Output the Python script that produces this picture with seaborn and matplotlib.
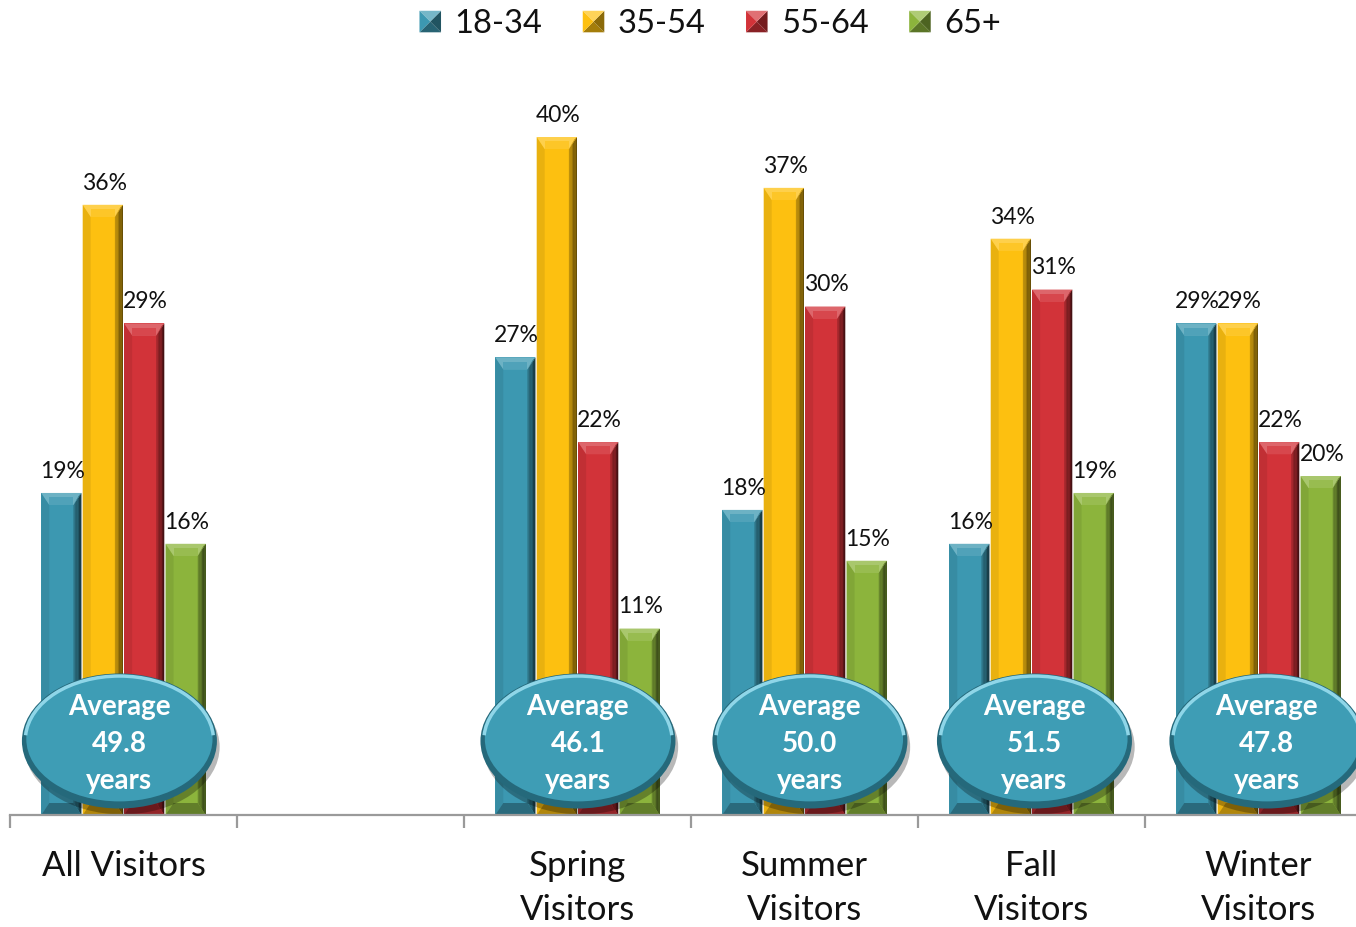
import numpy as np
import pandas as pd
import matplotlib
matplotlib.use("Agg")
import matplotlib.pyplot as plt
import matplotlib.colors as mcolors
from matplotlib.patches import Polygon, Ellipse, Arc, Rectangle
from matplotlib.legend_handler import HandlerBase
import seaborn as sns

# ---- data -------------------------------------------------------------
categories = ["All Visitors", " ", "Spring\nVisitors", "Summer\nVisitors",
              "Fall\nVisitors", "Winter\nVisitors"]
age_groups = ["18-34", "35-54", "55-64", "65+"]
share_18_34 = [19, None, 27, 18, 16, 29]
share_35_54 = [36, None, 40, 37, 34, 29]
share_55_64 = [29, None, 22, 30, 31, 22]
share_65_up = [16, None, 11, 15, 19, 20]
average_age = ["49.8", None, "46.1", "50.0", "51.5", "47.8"]

palette = ["#3c98b1", "#fdc010", "#d23339", "#8cb43c"]

rows = []
for grp, vals in zip(age_groups, [share_18_34, share_35_54, share_55_64, share_65_up]):
    for cat, v in zip(categories, vals):
        if v is not None:
            rows.append({"Category": cat, "Age": grp, "Share": v})
df = pd.DataFrame(rows)

# ---- figure -----------------------------------------------------------
sns.set_theme(style="white")
plt.rcParams["font.family"] = ["Lato", "DejaVu Sans"]

W, H = 1356, 927
fig = plt.figure(figsize=(W / 100, H / 100), dpi=100)
px_per_pct = 16.95
ax_top_px, ax_bot_px, ax_left_px = 60, 815, 10
ax = fig.add_axes([ax_left_px / W, (H - ax_bot_px) / H,
                   1362 / W, (ax_bot_px - ax_top_px) / H])

sns.barplot(data=df, x="Category", y="Share", hue="Age", order=categories,
            hue_order=age_groups, palette=palette, width=0.73, gap=0.03,
            saturation=1, ax=ax, legend=False, edgecolor="none", linewidth=0)

ax.set_xlim(-0.5, 5.5)
ax.set_ylim(0, (ax_bot_px - ax_top_px) / px_per_pct)


def shade(c, f):
    r, g, b = mcolors.to_rgb(c)
    if f >= 0:
        return (r + (1 - r) * f, g + (1 - g) * f, b + (1 - b) * f)
    return (r * (1 + f), g * (1 + f), b * (1 + f))


# bevelled look on each bar
bx = 8 / 227
by = 12 / px_per_pct
for bar in ax.patches:
    h = bar.get_height()
    if not np.isfinite(h) or h <= 0:
        continue
    x0 = bar.get_x()
    x1 = x0 + bar.get_width()
    c = bar.get_facecolor()
    # right side, graded into darkness
    n = 6
    for i in range(n):
        a = x1 - bx + bx * i / n
        b = x1 - bx + bx * (i + 1) / n
        ax.add_patch(Polygon([(a, by * (1 - i / n)), (b, by * (1 - (i + 1) / n)),
                              (b, h - by * (1 - (i + 1) / n)), (a, h - by * (1 - i / n))],
                             closed=True, fc=shade(c, -0.25 - 0.5 * i / n),
                             ec="none", zorder=3))
    # left side
    ax.add_patch(Polygon([(x0, 0), (x0 + bx, by), (x0 + bx, h - by), (x0, h)],
                         closed=True, fc=shade(c, -0.08), ec="none", zorder=3))
    # top bevel
    ax.add_patch(Polygon([(x0, h), (x1, h), (x1 - bx, h - by), (x0 + bx, h - by)],
                         closed=True, fc=shade(c, 0.25), ec="none", zorder=3))
    ax.add_patch(Polygon([(x0 + bx, h - by * 0.35), (x1 - bx, h - by * 0.35),
                          (x1 - bx, h - by), (x0 + bx, h - by)],
                         closed=True, fc=shade(c, 0.1), ec="none", zorder=3))
    ax.add_patch(Polygon([(x1, h), (x1 - bx, h - by), (x1 - bx * 0.3, h - by * 0.2)],
                         closed=True, fc=shade(c, -0.3), ec="none", zorder=3))
    # bottom bevel
    ax.add_patch(Polygon([(x0, 0), (x1, 0), (x1 - bx, by), (x0 + bx, by)],
                         closed=True, fc=shade(c, -0.3), ec="none", zorder=3))
    # value label
    ax.annotate(f"{int(round(h))}%", (bar.get_x() + bar.get_width() / 2, h),
                xytext=(1, 8), textcoords="offset points", ha="center",
                va="bottom", fontsize=16.5, color="#111111", zorder=6)

# average-age badges
badge_nudge = [-0.018, 0, 0.002, 0.024, 0.013, 0.037]
ell_w = 195 / 227
ell_h = 135 / px_per_pct
ell_y = (815 - 741) / px_per_pct
for i, avg in enumerate(average_age):
    if avg is None:
        continue
    cx = i + badge_nudge[i]
    ax.add_patch(Ellipse((cx + 0.012, ell_y - 0.35), ell_w, ell_h,
                         fc=(0, 0, 0, 0.28), ec="none", zorder=7))
    ax.add_patch(Ellipse((cx, ell_y), ell_w, ell_h, fc="#25697b", ec="none",
                         zorder=8))
    ax.add_patch(Ellipse((cx, ell_y + 0.12), ell_w * 0.955, ell_h * 0.925,
                         fc="#3e9db5", ec="none", zorder=9))
    ax.add_patch(Arc((cx, ell_y + 0.05), ell_w * 0.965, ell_h * 0.95,
                     theta1=35, theta2=145, color="#8fd6e8", lw=2.5, zorder=10))
    ax.text(cx, (815 - 744) / px_per_pct, f"Average\n{avg}\nyears",
            ha="center", va="center", color="white", fontsize=20,
            fontweight="bold", linespacing=1.5, zorder=11)

# axis styling
for s in ["top", "right", "left"]:
    ax.spines[s].set_visible(False)
ax.spines["bottom"].set_color("#9a9a9a")
ax.spines["bottom"].set_linewidth(1.6)
ax.spines["bottom"].set_zorder(12)
ax.set_yticks([])
ax.set_xlabel("")
ax.set_ylabel("")
ax.set_xticks(np.arange(-0.5, 6.0, 1.0), minor=True)
ax.tick_params(axis="x", which="minor", direction="out", length=9,
               width=1.6, color="#9a9a9a", bottom=True)
ax.tick_params(axis="x", which="major", length=0, pad=25, labelsize=25,
               labelcolor="#111111")
for lbl in ax.get_xticklabels():
    lbl.set_linespacing(1.47)


# legend with pyramid-style swatches
class PyramidHandler(HandlerBase):
    def create_artists(self, legend, orig_handle, xdescent, ydescent, width,
                       height, fontsize, trans):
        c = orig_handle.get_facecolor()
        s = min(width, height)
        x0 = -xdescent + (width - s) / 2
        y0 = -ydescent + (height - s) / 2
        cxm, cym = x0 + s / 2, y0 + s / 2
        corners = [(x0, y0), (x0 + s, y0), (x0 + s, y0 + s), (x0, y0 + s)]
        tones = [-0.35, -0.45, 0.3, 0.0]  # bottom, right, top, left
        arts = []
        for k in range(4):
            p = Polygon([corners[k], corners[(k + 1) % 4], (cxm, cym)],
                        closed=True, fc=shade(c, tones[k]), ec="none",
                        transform=trans)
            arts.append(p)
        return arts


handles = [Rectangle((0, 0), 1, 1, fc=c) for c in palette]
fig.legend(handles, age_groups, handler_map={Rectangle: PyramidHandler()},
           loc="center", bbox_to_anchor=(710 / W, 1 - 24 / H), ncol=4,
           frameon=False, fontsize=23.5, handlelength=0.66, handleheight=0.66,
           handletextpad=0.4, columnspacing=1.25, labelcolor="#111111")

fig.savefig("out.png", dpi=100)
